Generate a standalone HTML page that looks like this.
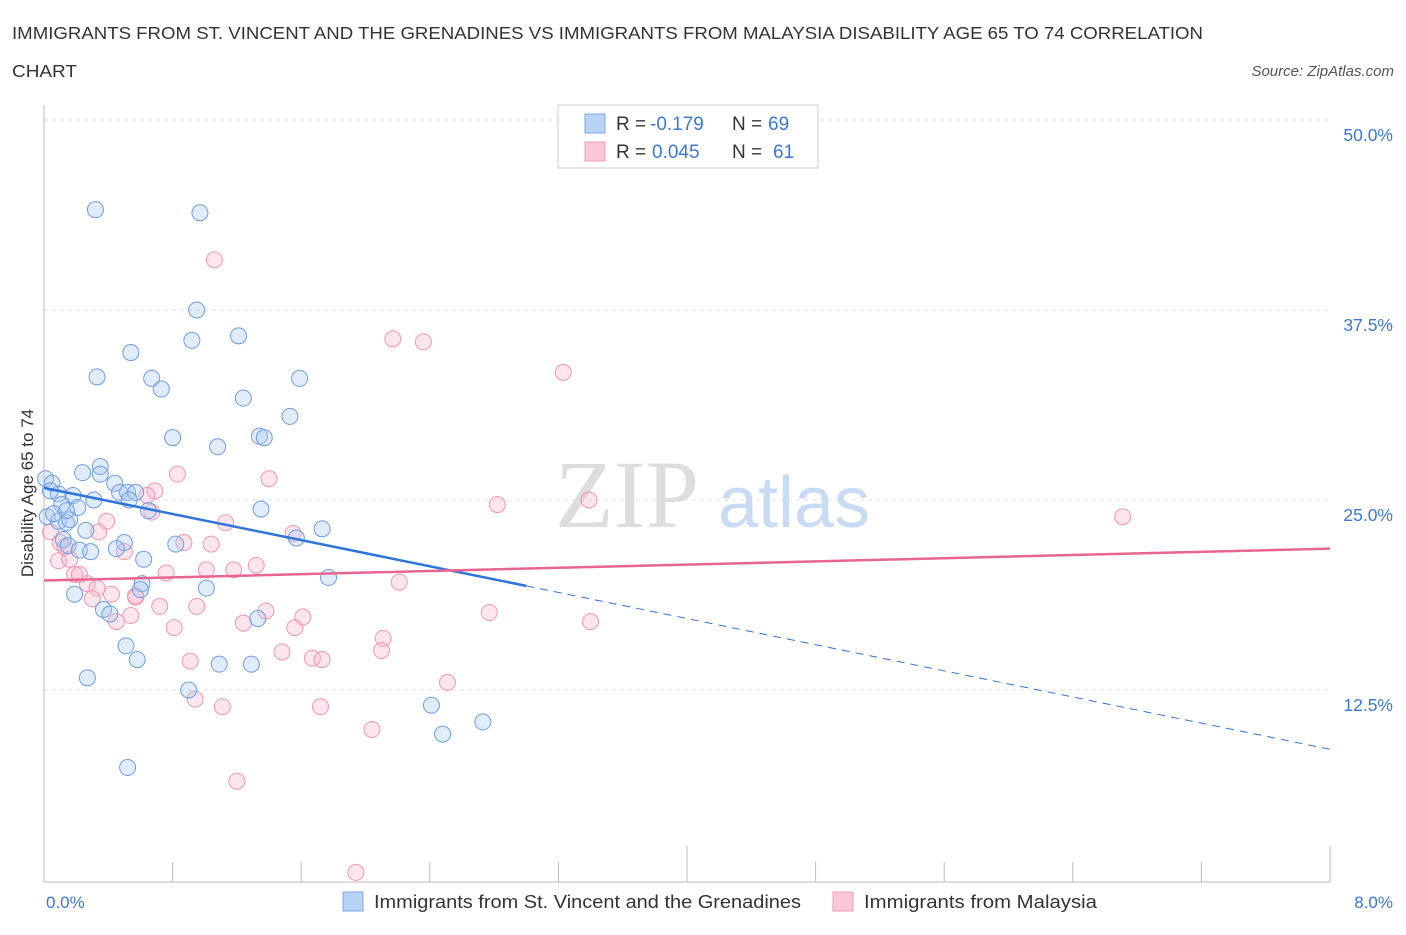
<!DOCTYPE html>
<html><head><meta charset="utf-8"><style>
body{margin:0;background:#fff;font-family:"Liberation Sans",sans-serif;}
</style></head><body>
<svg width="1406" height="930" xmlns="http://www.w3.org/2000/svg">
<text x="12" y="39" font-size="17.5" fill="#333" textLength="1191" lengthAdjust="spacingAndGlyphs">IMMIGRANTS FROM ST. VINCENT AND THE GRENADINES VS IMMIGRANTS FROM MALAYSIA DISABILITY AGE 65 TO 74 CORRELATION</text>
<text x="12" y="77" font-size="17.5" fill="#333" textLength="65" lengthAdjust="spacingAndGlyphs">CHART</text>
<text x="1394" y="76" font-size="15" fill="#555" font-style="italic" text-anchor="end">Source: ZipAtlas.com</text>
<g id="grid"></g>
<text x="555" y="527" font-size="96" fill="#ddd" font-family="Liberation Serif">ZIP</text>
<text x="718" y="527" font-size="72" fill="#c9dbf2">atlas</text>
<line x1="44" y1="105" x2="44" y2="882" stroke="#bbb"/>
<line x1="44" y1="882" x2="1330" y2="882" stroke="#bbb"/>
<g id="pts"></g>
<g id="lines"></g>
<text transform="translate(33,493) rotate(-90)" font-size="17" fill="#333" text-anchor="middle">Disability Age 65 to 74</text>
<text x="46" y="908" font-size="17" fill="#3a78d4">0.0%</text>
<text x="1393" y="908" font-size="17" fill="#3a78d4" text-anchor="end">8.0%</text>
<g>
<rect x="558" y="105" width="260" height="63" fill="#fff" stroke="#ccc"/>
<rect x="585" y="114" width="20" height="19" fill="#b9d3f5" stroke="#7aa7e3"/>
<rect x="585" y="142" width="20" height="19" fill="#f9c7d6" stroke="#ee9bb5"/>
<text x="616" y="130" font-size="19" fill="#333">R =</text>
<text x="650" y="130" font-size="19" fill="#3a78d4">-0.179</text>
<text x="732" y="130" font-size="19" fill="#333">N =</text>
<text x="768" y="130" font-size="19" fill="#3a78d4">69</text>
<text x="616" y="158" font-size="19" fill="#333">R =</text>
<text x="652" y="158" font-size="19" fill="#3a78d4">0.045</text>
<text x="732" y="158" font-size="19" fill="#333">N =</text>
<text x="773" y="158" font-size="19" fill="#3a78d4">61</text>
</g>
<g>
<rect x="343" y="892" width="20" height="19" fill="#b9d3f5" stroke="#7aa7e3"/>
<text x="374" y="908" font-size="18.5" fill="#333" textLength="427" lengthAdjust="spacingAndGlyphs">Immigrants from St. Vincent and the Grenadines</text>
<rect x="833" y="892" width="20" height="19" fill="#f9c7d6" stroke="#ee9bb5"/>
<text x="864" y="908" font-size="18.5" fill="#333" textLength="233" lengthAdjust="spacingAndGlyphs">Immigrants from Malaysia</text>
</g>
</svg>
<script>
const yTicks=[12.5,25,37.5,50];
const blueX=[0.32,0.97,0.95,0.92,1.21,0.54,0.33,0.67,0.73,1.59,1.24,1.53,0.80,1.08,1.34,1.37,0.01,0.05,0.24,0.35,0.35,0.44,0.47,0.52,0.57,0.53,0.09,0.18,0.31,0.11,0.21,0.65,1.35,1.73,0.02,0.09,0.14,0.26,0.12,0.15,0.22,0.29,0.50,0.45,0.62,0.82,1.57,1.77,0.61,0.60,1.01,0.19,0.37,0.41,1.33,0.51,0.58,1.09,1.29,0.27,0.90,2.41,2.48,2.73,0.52,0.06,0.04,0.16,0.14];
const blueY=[44.1,43.9,37.5,35.5,35.8,34.7,33.1,33.0,32.3,33.0,31.7,30.5,29.1,28.5,29.2,29.1,26.4,26.1,26.8,27.2,26.7,26.1,25.5,25.5,25.5,25.0,25.4,25.3,25.0,24.7,24.5,24.3,24.4,23.1,23.9,23.6,23.5,23.0,22.4,22.0,21.7,21.6,22.2,21.8,21.1,22.1,22.5,19.9,19.5,19.1,19.2,18.8,17.8,17.5,17.2,15.4,14.5,14.2,14.2,13.3,12.5,11.5,9.6,10.4,7.4,24.1,25.6,23.7,24.3];
const pinkX=[1.06,2.17,2.36,3.23,0.83,1.40,0.69,0.64,0.67,3.39,2.82,6.71,1.13,0.39,0.34,0.10,0.13,0.87,1.04,1.55,0.50,1.32,1.18,1.01,0.76,0.19,0.27,0.33,2.21,0.09,0.42,0.57,0.30,0.54,0.45,0.72,0.95,1.38,1.61,1.24,3.40,2.77,0.81,1.56,2.11,2.10,1.48,1.67,1.73,0.91,2.51,0.94,1.11,1.72,2.04,1.20,1.94,0.16,0.22,0.57,0.04];
const pinkY=[40.8,35.6,35.4,33.4,26.7,26.4,25.6,25.3,24.2,25.0,24.7,23.9,23.5,23.6,22.9,22.2,21.9,22.2,22.1,22.8,21.6,20.7,20.4,20.4,20.2,20.1,19.5,19.2,19.6,21.0,18.8,18.6,18.5,17.4,17.0,18.0,18.0,17.7,17.3,16.9,17.0,17.6,16.6,16.6,15.9,15.1,15.0,14.6,14.5,14.4,13.0,11.9,11.4,11.4,9.9,6.5,0.5,21.1,20.1,18.7,22.9];
const blueTrend=[25.8,8.6]; const pinkTrend=[19.7,21.8];
const blueSolidEnd=3.0;
const NS='http://www.w3.org/2000/svg';
const xs=v=>44+v/8*1286, ys=v=>880-v/50*760;
function mk(t,a,p){const e=document.createElementNS(NS,t);for(const k in a)e.setAttribute(k,a[k]);p.appendChild(e);return e;}
const grid=document.getElementById('grid');
yTicks.forEach(t=>{
 const l=mk('line',{x1:44,x2:1330,y1:ys(t),y2:ys(t),stroke:'#ddd','stroke-dasharray':'4,4'},grid);
 
 
 const tx=mk('text',{x:1393,y:ys(t)+21,'font-size':17.5,fill:'#3a78d4','text-anchor':'end'},grid);
 tx.textContent=t.toFixed(1)+'%';
 
 
});
for(let i=1;i<=10;i++){const l=mk('line',{x1:xs(i*0.8),x2:xs(i*0.8),y1:882,y2:i%5==0?846:862,stroke:'#bbb'},grid);
 
 }
const pts=document.getElementById('pts');
pinkX.forEach((x,i)=>{const c=mk('circle',{cx:xs(x),cy:ys(pinkY[i]),r:8,fill:'rgba(247,180,200,0.35)',stroke:'#ec97b3','stroke-width':1},pts);
 
 });
blueX.forEach((x,i)=>{const c=mk('circle',{cx:xs(x),cy:ys(blueY[i]),r:8,fill:'rgba(170,200,240,0.35)',stroke:'#6f9ddf','stroke-width':1},pts);
 
 });
const lines=document.getElementById('lines');
const by=x=>blueTrend[0]+(blueTrend[1]-blueTrend[0])*x/8;
let l1=mk('line',{x1:xs(0),y1:ys(by(0)),x2:xs(blueSolidEnd),y2:ys(by(blueSolidEnd)),stroke:'#2f74d8','stroke-width':2.5},lines);


let l2=mk('line',{x1:xs(blueSolidEnd),y1:ys(by(blueSolidEnd)),x2:xs(8),y2:ys(by(8)),stroke:'#2f74d8','stroke-width':1,'stroke-dasharray':'8,6'},lines);


let l3=mk('line',{x1:xs(0),y1:ys(pinkTrend[0]),x2:xs(8),y2:ys(pinkTrend[1]),stroke:'#e8658f','stroke-width':2.5},lines);


</script>
</body></html>
